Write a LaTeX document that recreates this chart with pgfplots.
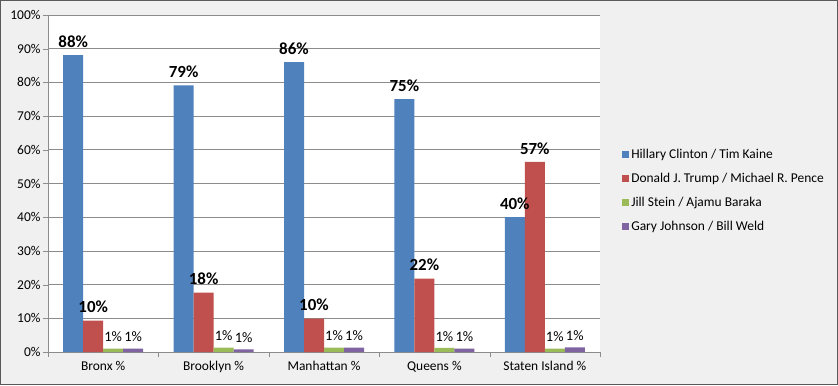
\documentclass[border=0pt]{standalone}
\usepackage{pgfplots}
\pgfplotsset{compat=1.18}
\usepackage{fontspec}
\setmainfont{Carlito}
\definecolor{cB}{HTML}{4F81BD}
\definecolor{cR}{HTML}{C0504D}
\definecolor{cG}{HTML}{9BBB59}
\definecolor{cP}{HTML}{8064A2}
\definecolor{bg}{HTML}{F0F0F0}
\definecolor{gridc}{HTML}{8C8C8C}
\begin{document}
\begin{tikzpicture}[x=1bp,y=1bp]
\useasboundingbox (0,0) rectangle (838,385);
\fill[bg] (0,0) rectangle (838,385);
\draw[gray!70!black,line width=1bp] (0.5,0.5) rectangle (837.5,384.5);
\fill[white] (48,33) rectangle (600,370);
\begin{axis}[
  at={(48bp,33bp)}, anchor=south west,
  scale only axis, width=552bp, height=337bp,
  ybar=0pt, bar width=20bp,
  xmin=-0.5, xmax=4.5, ymin=0, ymax=100,
  xtick={0,1,2,3,4},
  xticklabels={Bronx \%, Brooklyn \%, Manhattan \%, Queens \%, Staten Island \%},
  major x tick style={draw=none},
  minor xtick={-0.5,0.5,1.5,2.5,3.5,4.5},
  minor x tick style={gridc},
  minor tick length=5bp,
  ytick={0,10,...,100},
  yticklabel={\pgfmathprintnumber{\tick}\%},
  /pgf/number format/assume math mode=true,
  ymajorgrids, grid style={gridc, line width=0.6bp},
  major y tick style={gridc}, major tick length=5bp,
  tick align=outside,
  axis line style={gridc},
  axis x line*=bottom, axis y line*=left,
  ticklabel style={font=\fontsize{13.5}{15}\selectfont},
  yticklabel style={xshift=1bp},
  xticklabel style={yshift=-1bp},
  point meta=explicit symbolic,
  nodes near coords,
  every node near coord/.append style={font=\bfseries\fontsize{17}{19}\selectfont, inner sep=1.5bp, yshift=6bp},
  legend style={at={(1.04,0.479)}, anchor=west, draw=none, fill=none,
    font=\fontsize{13.5}{15}\selectfont, row sep=9bp, inner sep=0pt},
  legend cell align=left,
  legend image code/.code={\fill[#1,draw=none] (0bp,-3.5bp) rectangle (7bp,3.5bp);},
]
\addplot[fill=cB,draw=none] coordinates {(0,88.1)[88\%] (1,79.1)[79\%] (2,86.0)[86\%] (3,75.0)[75\%] (4,40.0)[40\%]};
\addplot[fill=cR,draw=none] coordinates {(0,9.3)[10\%] (1,17.6)[18\%] (2,9.9)[10\%] (3,21.8)[22\%] (4,56.4)[57\%]};
\addplot[fill=cG,draw=none,every node near coord/.append style={font=\fontsize{14.5}{16}\selectfont, yshift=-1bp}] coordinates {(0,1.0)[1\%] (1,1.3)[1\%] (2,1.3)[1\%] (3,1.2)[1\%] (4,1.0)[1\%]};
\addplot[fill=cP,draw=none,every node near coord/.append style={font=\fontsize{14.5}{16}\selectfont, yshift=-1bp}] coordinates {(0,1.0)[1\%] (1,0.8)[1\%] (2,1.3)[1\%] (3,1.0)[1\%] (4,1.4)[1\%]};
\legend{Hillary Clinton / Tim Kaine, Donald J. Trump / Michael R. Pence, Jill Stein / Ajamu Baraka, Gary Johnson / Bill Weld}
\end{axis}
\end{tikzpicture}
\end{document}
